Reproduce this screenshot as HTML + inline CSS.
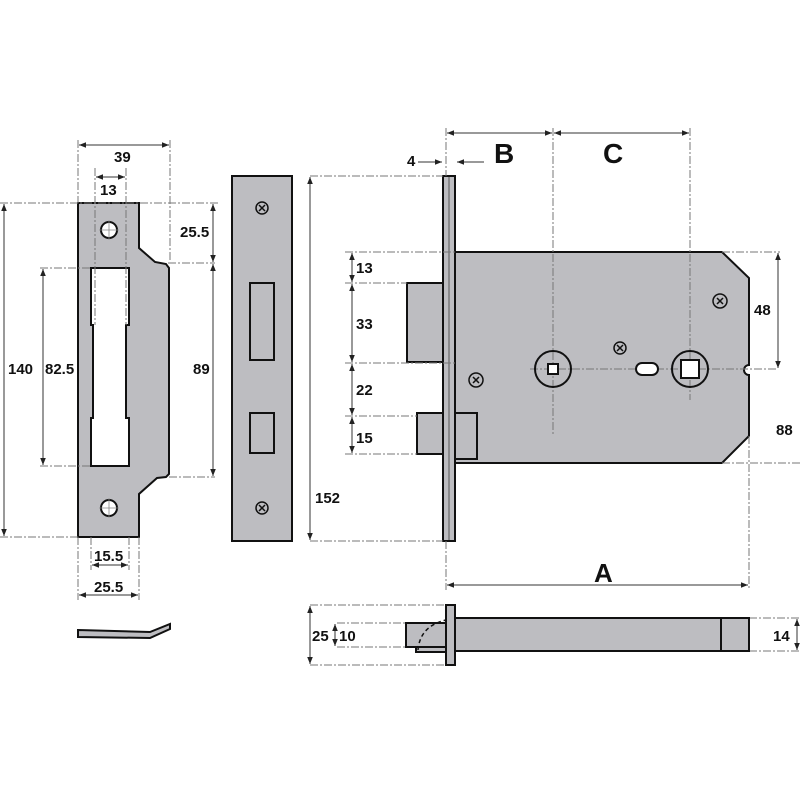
<!DOCTYPE html>
<html><head><meta charset="utf-8"><style>
html,body{margin:0;padding:0;background:#fff}
svg{display:block}
text{font-family:"Liberation Sans",sans-serif;font-weight:bold;font-size:15px;fill:#111}
.g{fill:#bdbdc1;stroke:#111;stroke-width:2}
.w{fill:#fff;stroke:#111;stroke-width:2}
.d{stroke:#777;stroke-width:1;stroke-dasharray:8,2,2,2;fill:none}
.m{stroke:#333;stroke-width:1;fill:none;marker-start:url(#a);marker-end:url(#a)}
</style></head><body>
<svg width="800" height="800" viewBox="0 0 800 800" xmlns="http://www.w3.org/2000/svg">
<defs><marker id="a" viewBox="0 0 10 10" refX="10" refY="5" markerWidth="7" markerHeight="7" orient="auto-start-reverse"><path d="M0,1L10,5L0,9z" fill="#222"/></marker></defs>

<!-- strike plate -->
<path class="g" d="M78,203H139V248L155,262L166,264L169,268V474L166,477L157,478L139,494V537H78Z"/>
<path class="w" d="M91,268H129V325H126V418H129V466H91V418H93V325H91Z"/>
<circle class="w" cx="109" cy="230" r="8"/><circle class="w" cx="109" cy="508" r="8"/>
<path d="M99,230H119M109,220V240M99,508H119M109,498V518" stroke="#888" stroke-width="0.8"/>
<path class="d" d="M78,140V203M170,140V262M95,168V325M126,168V325M0,203H218M168,263H215M40,268H90M40,466H90M169,477H215M0,537H78M78,537V600M91,537V570M129,537V570M139,537V600"/>
<line class="m" x1="79" y1="145" x2="169" y2="145"/><text x="114" y="162">39</text>
<line class="m" x1="96" y1="177" x2="125" y2="177"/><text x="100" y="195">13</text>
<line class="m" x1="213" y1="204" x2="213" y2="262"/><text x="180" y="237">25.5</text>
<line class="m" x1="213" y1="264" x2="213" y2="476"/><text x="193" y="374">89</text>
<line class="m" x1="4" y1="204" x2="4" y2="536"/><text x="8" y="374">140</text>
<line class="m" x1="43" y1="269" x2="43" y2="465"/><text x="45" y="374">82.5</text>
<line class="m" x1="92" y1="565" x2="128" y2="565"/><text x="94" y="561">15.5</text>
<line class="m" x1="79" y1="595" x2="138" y2="595"/><text x="94" y="592">25.5</text>
<path class="g" d="M78,630L150,632L170,624L170,629L150,638L78,637Z" stroke-width="1.5"/>

<!-- forend -->
<rect class="g" x="232" y="176" width="60" height="365"/>
<rect class="g" x="250" y="283" width="24" height="77"/>
<rect class="g" x="250" y="413" width="24" height="40"/>
<g stroke="#111" stroke-width="1.5" fill="none">
<circle cx="262" cy="208" r="6"/><path d="M259,205l6,6M265,205l-6,6"/>
<circle cx="262" cy="508" r="6"/><path d="M259,505l6,6M265,505l-6,6"/></g>

<!-- lock -->
<rect class="g" x="407" y="283" width="36" height="79"/>
<rect class="g" x="417" y="413" width="28" height="41"/>
<path class="g" d="M455,252H722L749,278V365A4,4 0 0 0 749,375V436L722,463H455Z"/>
<rect class="g" x="455" y="413" width="22" height="46"/>
<rect class="g" x="443" y="176" width="12" height="365"/>
<line x1="449" y1="177" x2="449" y2="540" stroke="#555" stroke-width="1"/>
<path class="d" d="M446,128V176M553,128V435M690,128V400M530,369H778M345,252H457M345,283H407M345,363H457M345,416H417M345,454H417M310,176H443M310,541H443M446,541V590M749,436V590M722,463H800M722,252H780"/>
<circle cx="553" cy="369" r="18" fill="none" stroke="#111" stroke-width="2"/>
<rect class="w" x="548" y="364" width="10" height="10"/>
<circle cx="690" cy="369" r="18" fill="none" stroke="#111" stroke-width="2"/>
<rect class="w" x="681" y="360" width="18" height="18"/>
<rect class="w" x="636" y="363" width="22" height="12" rx="6"/>
<g stroke="#111" stroke-width="1.5" fill="none">
<circle cx="476" cy="380" r="7"/><path d="M473,377l6,6M479,377l-6,6"/>
<circle cx="620" cy="348" r="6"/><path d="M617,345l6,6M623,345l-6,6"/>
<circle cx="720" cy="301" r="7"/><path d="M717,298l6,6M723,298l-6,6"/></g>

<line class="m" x1="447" y1="133" x2="552" y2="133"/>
<line class="m" x1="554" y1="133" x2="689" y2="133"/>
<text x="494" y="163" style="font-size:28px;font-weight:bold">B</text>
<text x="603" y="163" style="font-size:28px;font-weight:bold">C</text>
<text x="407" y="166">4</text>
<line x1="418" y1="162" x2="442" y2="162" stroke="#333" marker-end="url(#a)"/>
<line x1="484" y1="162" x2="457" y2="162" stroke="#333" marker-end="url(#a)"/>
<line class="m" x1="310" y1="177" x2="310" y2="540"/><text x="315" y="503">152</text>
<line class="m" x1="352" y1="253" x2="352" y2="282"/><text x="356" y="273">13</text>
<line class="m" x1="352" y1="284" x2="352" y2="362"/><text x="356" y="329">33</text>
<line class="m" x1="352" y1="364" x2="352" y2="415"/><text x="356" y="395">22</text>
<line class="m" x1="352" y1="417" x2="352" y2="453"/><text x="356" y="443">15</text>
<line class="m" x1="778" y1="253" x2="778" y2="368"/><text x="754" y="315">48</text>
<text x="776" y="435">88</text>
<line class="m" x1="447" y1="585" x2="748" y2="585"/>
<text x="594" y="582" style="font-size:26px;font-weight:bold">A</text>

<!-- bottom view -->
<path class="d" d="M310,605H446M310,665H446M337,623H406M337,647H406M749,618H800M749,651H800"/>
<rect class="g" x="406" y="623" width="40" height="24"/>
<rect class="g" x="416" y="647" width="30" height="5"/>
<path d="M418,650Q420,626 446,620" stroke="#111" stroke-width="1.5" stroke-dasharray="4,3" fill="none"/>
<rect class="g" x="455" y="618" width="266" height="33"/>
<rect class="g" x="721" y="618" width="28" height="33"/>
<rect class="g" x="446" y="605" width="9" height="60"/>
<line class="m" x1="310" y1="606" x2="310" y2="664"/><text x="312" y="641">25</text>
<line class="m" x1="335" y1="624" x2="335" y2="646"/><text x="339" y="641">10</text>
<line class="m" x1="797" y1="619" x2="797" y2="650"/><text x="773" y="641">14</text>
</svg>
</body></html>
